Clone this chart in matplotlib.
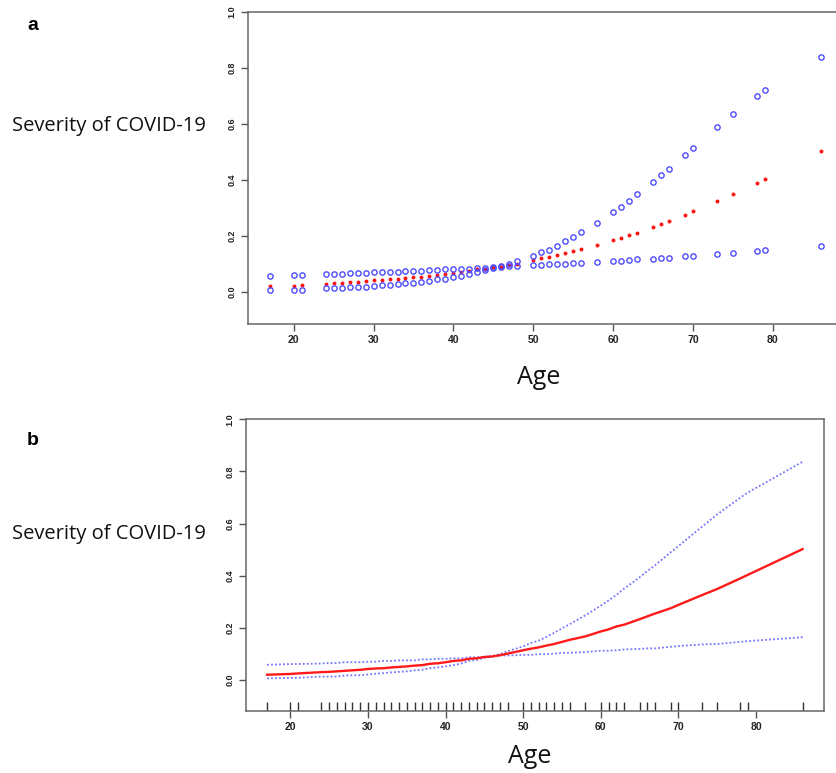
import matplotlib
matplotlib.use('Agg')
import matplotlib.pyplot as plt

# ages present in the data (rug positions)
ages = [17, 20, 21] + list(range(24, 49)) + [50, 51, 52, 53, 54, 55, 56, 58, 60, 61, 62, 63,
                                             65, 66, 67, 69, 70, 73, 75, 78, 79, 86]

# fitted probability
fit = [0.020, 0.023, 0.025,
       0.030, 0.031, 0.033, 0.035, 0.037, 0.039, 0.042, 0.044, 0.045, 0.048, 0.050, 0.052,
       0.055, 0.057, 0.062, 0.064, 0.068, 0.073, 0.075, 0.081, 0.083, 0.088, 0.090, 0.095, 0.101,
       0.114, 0.120, 0.125, 0.132, 0.138, 0.146, 0.154, 0.167, 0.186, 0.194, 0.205, 0.212,
       0.233, 0.244, 0.255, 0.275, 0.288, 0.325, 0.349, 0.390, 0.404, 0.502]

# upper confidence bound
upper = [0.058, 0.061, 0.061,
         0.063, 0.065, 0.065, 0.068, 0.068, 0.068, 0.070, 0.070, 0.073, 0.073, 0.075, 0.075,
         0.075, 0.079, 0.079, 0.081, 0.081, 0.083, 0.083, 0.087, 0.087, 0.089, 0.092, 0.099, 0.110,
         0.129, 0.142, 0.151, 0.165, 0.181, 0.198, 0.214, 0.248, 0.285, 0.305, 0.326, 0.350,
         0.394, 0.418, 0.440, 0.490, 0.514, 0.587, 0.635, 0.700, 0.720, 0.837]

# lower confidence bound
lower = [0.006, 0.008, 0.008,
         0.013, 0.013, 0.013, 0.017, 0.018, 0.018, 0.021, 0.024, 0.026, 0.029, 0.031, 0.033,
         0.037, 0.039, 0.045, 0.048, 0.052, 0.057, 0.063, 0.073, 0.077, 0.085, 0.089, 0.094, 0.094,
         0.096, 0.096, 0.099, 0.099, 0.101, 0.104, 0.104, 0.107, 0.112, 0.112, 0.114, 0.117,
         0.119, 0.121, 0.121, 0.127, 0.130, 0.136, 0.138, 0.146, 0.149, 0.164]

xticks = [20, 30, 40, 50, 60, 70, 80]
yticks = [0.0, 0.2, 0.4, 0.6, 0.8, 1.0]
ytick_labels = ['0.0', '0.2', '0.4', '0.6', '0.8', '1.0']

W, H = 837, 773
fig = plt.figure(figsize=(W / 100, H / 100), dpi=100)
fig.patch.set_facecolor('white')


def px_axes(left, top, right, bottom):
    return fig.add_axes([left / W, 1 - bottom / H, (right - left) / W, (bottom - top) / H])


def style_axes(ax, ylo):
    ax.set_xlim(14.24, 88.76)
    ax.set_ylim(ylo, 1.0)
    ax.set_xticks(xticks)
    ax.set_xticklabels([str(t) for t in xticks], fontsize=7.5, fontweight='bold',
                       family='Liberation Sans', color='#222')
    ax.set_yticks(yticks)
    ax.set_yticklabels(ytick_labels, fontsize=6.5, fontweight='bold',
                       family='Liberation Sans', color='#222', rotation=90, va='center')
    ax.tick_params(direction='out', length=5, width=1.0, color='#555', pad=3)
    for s in ax.spines.values():
        s.set_color('#666')
        s.set_linewidth(1.1)


# ---- panel a: points ----
ax1 = px_axes(247.7, 11.7, 842.8, 324)
style_axes(ax1, -0.114)
ax1.plot(ages, fit, 'o', ms=2.8, color='#ff1010', mec='none', zorder=2)
ax1.plot(ages, upper, 'o', ms=3.8, mfc='none', mec='#4d4dff', mew=1.0, zorder=3)
ax1.plot(ages, lower, 'o', ms=3.8, mfc='none', mec='#4d4dff', mew=1.0, zorder=3)

# ---- panel b: smooth curve with rug ----
ax2 = px_axes(245.7, 419.3, 824, 710.7)
style_axes(ax2, -0.118)
ax2.plot(ages, upper, color='#7575ff', lw=1.3, ls=(0, (1, 1.2)))
ax2.plot(ages, lower, color='#7575ff', lw=1.3, ls=(0, (1, 1.2)))
ax2.plot(ages, fit, color='#ff1a1a', lw=1.7)
ax2.vlines(ages, 0, 0.031, transform=ax2.get_xaxis_transform(), color='#333', lw=1.0)

# labels (added outside R in the original, humanist sans)
lab_font = dict(family=['Open Sans', 'DejaVu Sans'], color='#111')
fig.text(12 / W, 1 - 131 / H, 'Severity of COVID-19', fontsize=14.5, va='baseline', ha='left', **lab_font)
fig.text(12 / W, 1 - 539 / H, 'Severity of COVID-19', fontsize=14.5, va='baseline', ha='left', **lab_font)
fig.text(539 / W, 1 - 384 / H, 'Age', fontsize=18, va='baseline', ha='center', **lab_font)
fig.text(530 / W, 1 - 763 / H, 'Age', fontsize=18, va='baseline', ha='center', **lab_font)

fig.text(27 / W, 1 - 30 / H, 'a', fontsize=14, fontweight='bold', family='Liberation Sans', va='baseline')
fig.text(27 / W, 1 - 445 / H, 'b', fontsize=14, fontweight='bold', family='Liberation Sans', va='baseline')

fig.savefig('out.png', dpi=100)
plt.close(fig)
